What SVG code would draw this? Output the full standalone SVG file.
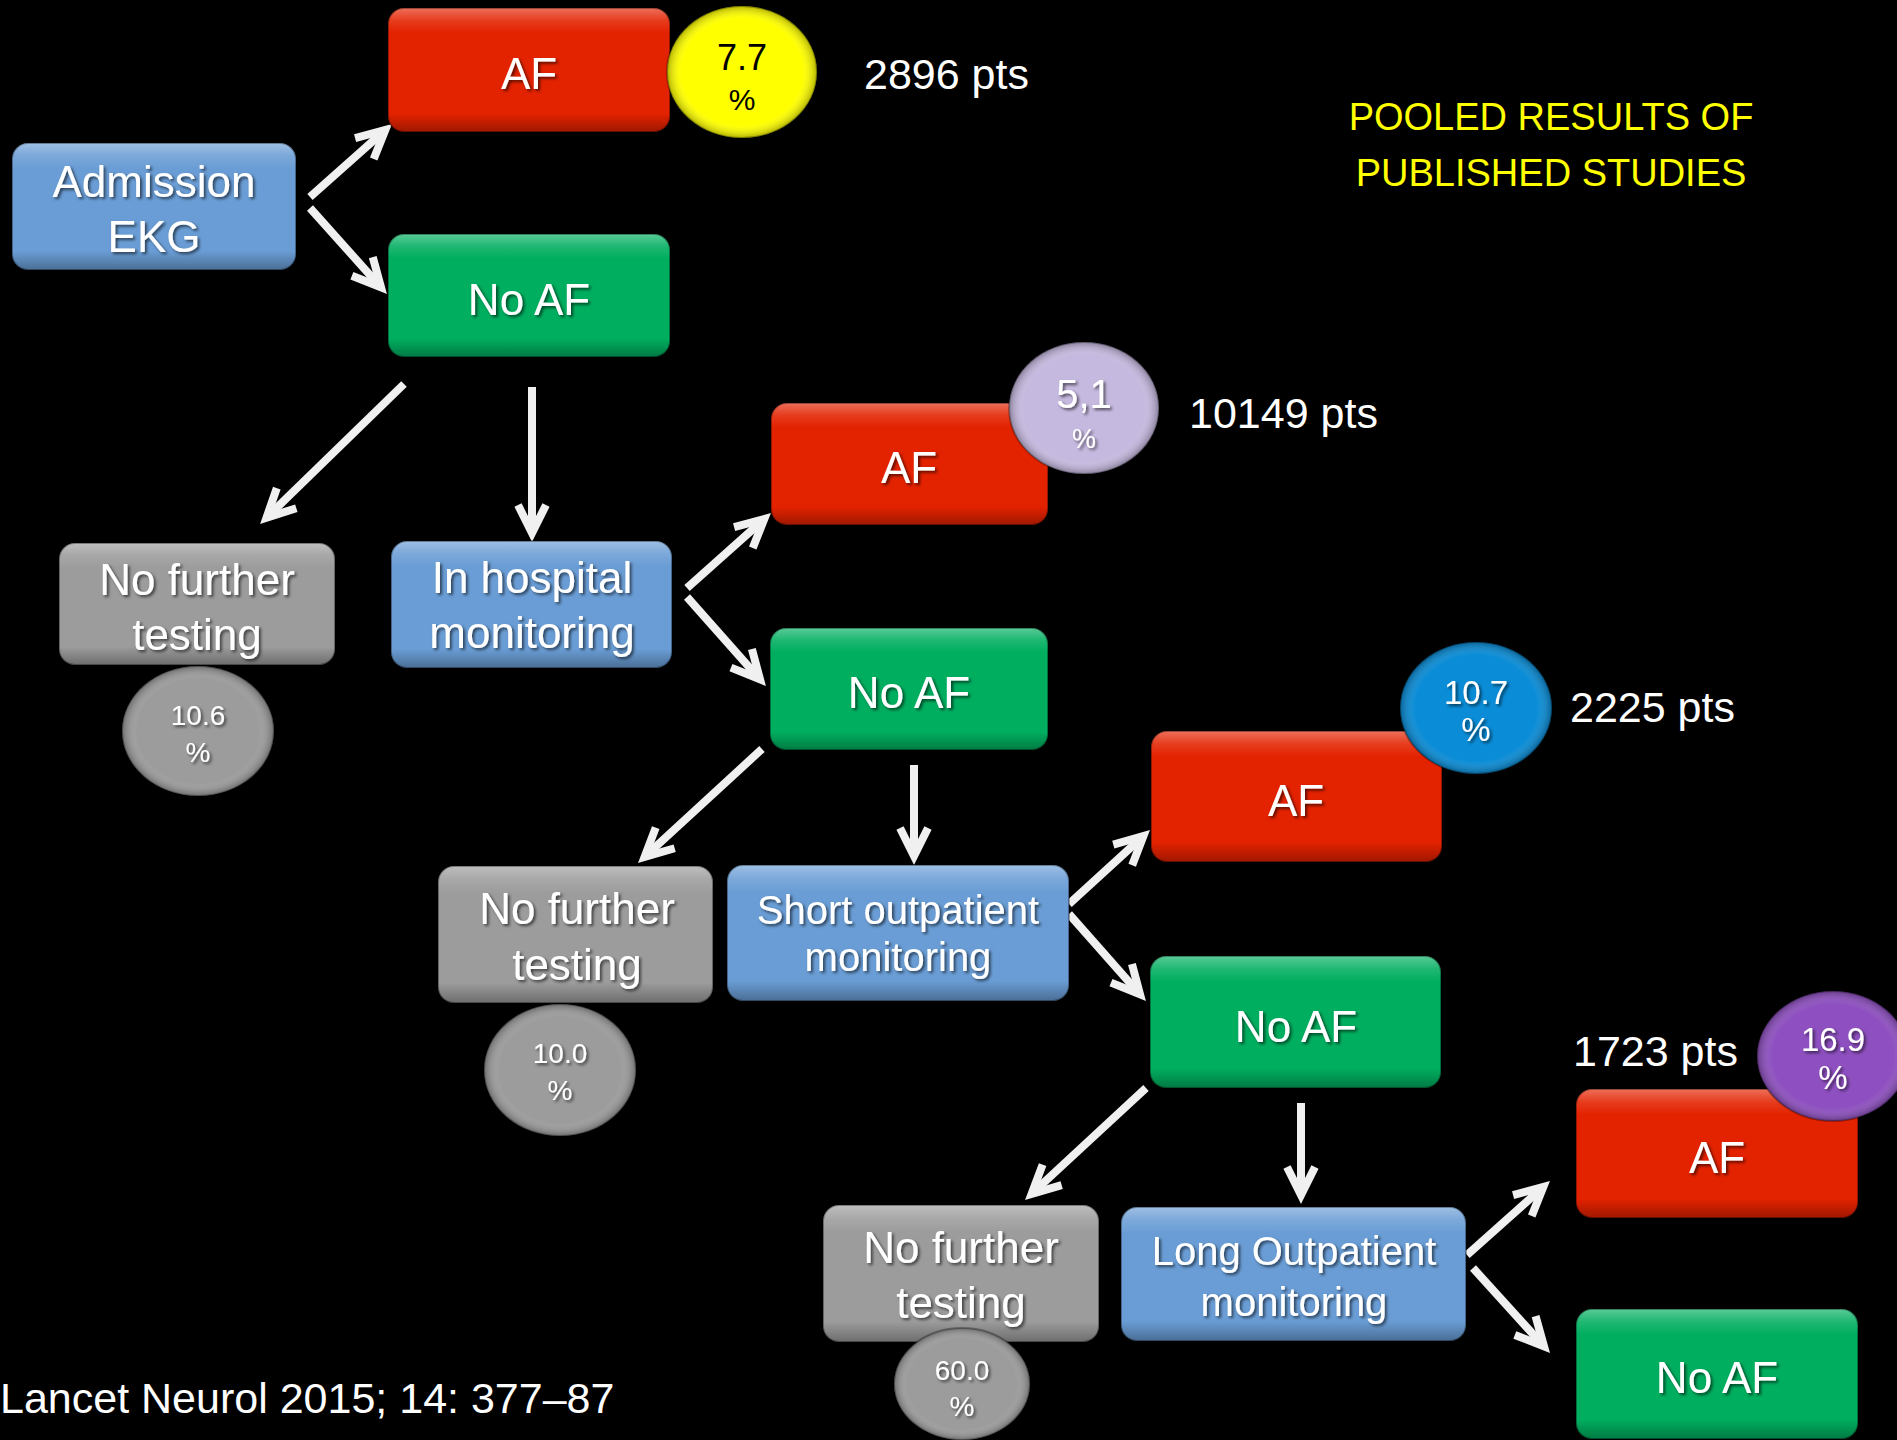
<svg xmlns="http://www.w3.org/2000/svg" width="1897" height="1440" viewBox="0 0 1897 1440">
<defs>
<style>
.t{font-family:"Liberation Sans",Arial,sans-serif;fill:#fff;text-anchor:middle;}
.sh{filter:url(#ts);}
.bl{font-size:44px;}
.bm{font-size:40px;}
.pts{font-family:"Liberation Sans",Arial,sans-serif;fill:#fff;font-size:43px;}
.bev{fill:url(#bevel);stroke:rgba(0,0,0,0.35);stroke-width:2;}
.ebev{fill:url(#ebevel);stroke:rgba(0,0,0,0.3);stroke-width:2;}
.red{fill:#e32200;}
.green{fill:#00ae5f;}
.blue{fill:#6a9dd5;}
.gray{fill:#9c9c9c;}
.arr{fill:none;stroke:#f0f0f0;stroke-width:8;marker-end:url(#ah);}
</style>
<linearGradient id="bevel" x1="0" y1="0" x2="0" y2="1">
<stop offset="0" stop-color="#fff" stop-opacity="0.35"/>
<stop offset="0.1" stop-color="#fff" stop-opacity="0.12"/>
<stop offset="0.2" stop-color="#fff" stop-opacity="0"/>
<stop offset="0.85" stop-color="#000" stop-opacity="0"/>
<stop offset="1" stop-color="#000" stop-opacity="0.3"/>
</linearGradient>
<radialGradient id="ebevel" cx="0.5" cy="0.5" r="0.5">
<stop offset="0" stop-color="#fff" stop-opacity="0"/>
<stop offset="0.8" stop-color="#fff" stop-opacity="0"/>
<stop offset="1" stop-color="#000" stop-opacity="0.3"/>
</radialGradient>
<filter id="ts" x="-10%" y="-10%" width="130%" height="140%">
<feDropShadow dx="2" dy="2" stdDeviation="1.5" flood-color="#000" flood-opacity="0.6"/>
</filter>
<marker id="ah" markerUnits="userSpaceOnUse" viewBox="-40 -24 60 48" refX="0" refY="0" markerWidth="60" markerHeight="48" orient="auto">
<path d="M-28,-14 L0,0 L-28,14" fill="none" stroke="#f0f0f0" stroke-width="8" stroke-linejoin="miter" stroke-miterlimit="6"/>
</marker>
</defs>
<rect width="1897" height="1440" fill="#000"/>

<g id="connectors">
<line class="arr" x1="310" y1="197" x2="385.3" y2="130"/>
<line class="arr" x1="310" y1="208" x2="381" y2="287.3"/>
<line class="arr" x1="404" y1="384" x2="266.5" y2="517.7"/>
<line class="arr" x1="532" y1="387" x2="532" y2="533"/>
<line class="arr" x1="687" y1="588" x2="764.3" y2="519"/>
<line class="arr" x1="687" y1="597" x2="760" y2="679.3"/>
<line class="arr" x1="762" y1="749" x2="644.6" y2="856.9"/>
<line class="arr" x1="914" y1="765" x2="914" y2="856"/>
<line class="arr" x1="1069" y1="904" x2="1143.4" y2="836"/>
<line class="arr" x1="1069" y1="914" x2="1140" y2="994.3"/>
<line class="arr" x1="1146" y1="1088" x2="1031.6" y2="1193.9"/>
<line class="arr" x1="1301" y1="1103" x2="1301" y2="1195"/>
<line class="arr" x1="1467" y1="1255" x2="1543.3" y2="1187"/>
<line class="arr" x1="1473" y1="1268" x2="1544" y2="1346.3"/>
</g>

<g id="admission-ekg">
<rect class="blue" x="12" y="143" width="284" height="127" rx="16"/>
<rect class="bev" x="12" y="143" width="284" height="127" rx="16"/>
<text class="t bl sh" x="154" y="197">Admission</text>
<text class="t bl sh" x="154" y="252">EKG</text>
</g>

<g id="af-1">
<rect class="red" x="388" y="8" width="282" height="124" rx="16"/>
<rect class="bev" x="388" y="8" width="282" height="124" rx="16"/>
<text class="t bl sh" x="529" y="89">AF</text>
</g>
<g id="pct-7-7">
<ellipse cx="742" cy="72" rx="75" ry="66" fill="#ffff00"/>
<ellipse class="ebev" cx="742" cy="72" rx="75" ry="66"/>
<text class="t" x="742" y="70" style="font-size:36px;fill:#000">7.7</text>
<text class="t" x="742" y="110" style="font-size:30px;fill:#000">%</text>
</g>
<text id="pts-2896" class="pts" x="864" y="89">2896 pts</text>

<g id="noaf-1">
<rect class="green" x="388" y="234" width="282" height="123" rx="16"/>
<rect class="bev" x="388" y="234" width="282" height="123" rx="16"/>
<text class="t bl sh" x="529" y="315">No AF</text>
</g>

<g id="nft-1">
<rect class="gray" x="59" y="543" width="276" height="122" rx="16"/>
<rect class="bev" x="59" y="543" width="276" height="122" rx="16"/>
<text class="t bl sh" x="197" y="595">No further</text>
<text class="t bl sh" x="197" y="650">testing</text>
</g>
<g id="pct-10-6">
<ellipse cx="198" cy="731" rx="76" ry="65" fill="#9c9c9c"/>
<ellipse class="ebev" cx="198" cy="731" rx="76" ry="65"/>
<text class="t sh" x="198" y="725" style="font-size:28px">10.6</text>
<text class="t sh" x="198" y="762" style="font-size:28px">%</text>
</g>

<g id="in-hospital">
<rect class="blue" x="391" y="541" width="281" height="127" rx="16"/>
<rect class="bev" x="391" y="541" width="281" height="127" rx="16"/>
<text class="t bl sh" x="532" y="593">In hospital</text>
<text class="t bl sh" x="532" y="648">monitoring</text>
</g>

<g id="af-2">
<rect class="red" x="771" y="403" width="277" height="122" rx="16"/>
<rect class="bev" x="771" y="403" width="277" height="122" rx="16"/>
<text class="t bl sh" x="909" y="483">AF</text>
</g>
<g id="pct-5-1">
<ellipse cx="1084" cy="408" rx="75" ry="66" fill="#c6b9df"/>
<ellipse class="ebev" cx="1084" cy="408" rx="75" ry="66"/>
<text class="t sh" x="1084" y="408" style="font-size:40px">5,1</text>
<text class="t sh" x="1084" y="448" style="font-size:27px">%</text>
</g>
<text id="pts-10149" class="pts" x="1189" y="428">10149 pts</text>

<g id="noaf-2">
<rect class="green" x="770" y="628" width="278" height="122" rx="16"/>
<rect class="bev" x="770" y="628" width="278" height="122" rx="16"/>
<text class="t bl sh" x="909" y="708">No AF</text>
</g>

<g id="nft-2">
<rect class="gray" x="438" y="866" width="275" height="137" rx="16"/>
<rect class="bev" x="438" y="866" width="275" height="137" rx="16"/>
<text class="t bl sh" x="577" y="924">No further</text>
<text class="t bl sh" x="577" y="980">testing</text>
</g>
<g id="pct-10-0">
<ellipse cx="560" cy="1070" rx="76" ry="66" fill="#9c9c9c"/>
<ellipse class="ebev" cx="560" cy="1070" rx="76" ry="66"/>
<text class="t sh" x="560" y="1063" style="font-size:28px">10.0</text>
<text class="t sh" x="560" y="1100" style="font-size:28px">%</text>
</g>

<g id="short-outpatient">
<rect class="blue" x="727" y="865" width="342" height="136" rx="16"/>
<rect class="bev" x="727" y="865" width="342" height="136" rx="16"/>
<text class="t bm sh" x="898" y="924">Short outpatient</text>
<text class="t bm sh" x="898" y="971">monitoring</text>
</g>

<g id="af-3">
<rect class="red" x="1151" y="731" width="291" height="131" rx="16"/>
<rect class="bev" x="1151" y="731" width="291" height="131" rx="16"/>
<text class="t bl sh" x="1296" y="816">AF</text>
</g>
<g id="pct-10-7">
<ellipse cx="1476" cy="708" rx="76" ry="66" fill="#0a8cd6"/>
<ellipse class="ebev" cx="1476" cy="708" rx="76" ry="66"/>
<text class="t sh" x="1476" y="704" style="font-size:33px">10.7</text>
<text class="t sh" x="1476" y="741" style="font-size:33px">%</text>
</g>
<text id="pts-2225" class="pts" x="1570" y="722">2225 pts</text>

<g id="noaf-3">
<rect class="green" x="1150" y="956" width="291" height="132" rx="16"/>
<rect class="bev" x="1150" y="956" width="291" height="132" rx="16"/>
<text class="t bl sh" x="1296" y="1042">No AF</text>
</g>

<g id="nft-3">
<rect class="gray" x="823" y="1205" width="276" height="137" rx="16"/>
<rect class="bev" x="823" y="1205" width="276" height="137" rx="16"/>
<text class="t bl sh" x="961" y="1263">No further</text>
<text class="t bl sh" x="961" y="1318">testing</text>
</g>
<g id="pct-60-0">
<ellipse cx="962" cy="1384" rx="68" ry="56" fill="#9c9c9c"/>
<ellipse class="ebev" cx="962" cy="1384" rx="68" ry="56"/>
<text class="t sh" x="962" y="1380" style="font-size:28px">60.0</text>
<text class="t sh" x="962" y="1416" style="font-size:28px">%</text>
</g>

<g id="long-outpatient">
<rect class="blue" x="1121" y="1207" width="345" height="134" rx="16"/>
<rect class="bev" x="1121" y="1207" width="345" height="134" rx="16"/>
<text class="t bm sh" x="1294" y="1265">Long Outpatient</text>
<text class="t bm sh" x="1294" y="1316">monitoring</text>
</g>

<g id="af-4">
<rect class="red" x="1576" y="1089" width="282" height="129" rx="16"/>
<rect class="bev" x="1576" y="1089" width="282" height="129" rx="16"/>
<text class="t bl sh" x="1717" y="1173">AF</text>
</g>
<g id="pct-16-9">
<ellipse cx="1833" cy="1056" rx="76" ry="65" fill="#8e50c0"/>
<ellipse class="ebev" cx="1833" cy="1056" rx="76" ry="65"/>
<text class="t sh" x="1833" y="1051" style="font-size:33px">16.9</text>
<text class="t sh" x="1833" y="1089" style="font-size:33px">%</text>
</g>
<text id="pts-1723" class="pts" x="1573" y="1066">1723 pts</text>

<g id="noaf-4">
<rect class="green" x="1576" y="1309" width="282" height="130" rx="16"/>
<rect class="bev" x="1576" y="1309" width="282" height="130" rx="16"/>
<text class="t bl sh" x="1717" y="1393">No AF</text>
</g>

<g id="title">
<text class="t" x="1551" y="130" style="font-size:38px;fill:#ffff00">POOLED RESULTS OF</text>
<text class="t" x="1551" y="186" style="font-size:38px;fill:#ffff00">PUBLISHED STUDIES</text>
</g>
<text id="citation" x="0" y="1413" style="font-family:'Liberation Sans',Arial,sans-serif;font-size:43px;fill:#fff">Lancet Neurol 2015; 14: 377–87</text>
</svg>
